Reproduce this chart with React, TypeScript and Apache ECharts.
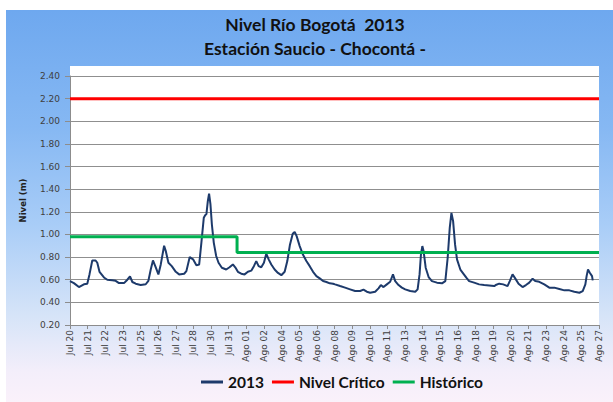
import React, { useEffect, useRef } from "react";
import * as echarts from "echarts";

const titleLines = ["Nivel Río Bogotá  2013", "Estación Saucio - Chocontá -"];
const yAxisName = "Nivel (m)";
const xTickLabels = [
  "Jul 20", "Jul 21", "Jul 22", "Jul 23", "Jul 25", "Jul 26", "Jul 27", "Jul 28", "Jul 30", "Jul 31",
  "Ago 01", "Ago 02", "Ago 04", "Ago 05", "Ago 06", "Ago 08", "Ago 09", "Ago 10", "Ago 11", "Ago 13",
  "Ago 14", "Ago 15", "Ago 16", "Ago 18", "Ago 19", "Ago 20", "Ago 21", "Ago 23", "Ago 24", "Ago 25", "Ago 27",
];
const totalDays = 38; // Jul 20 00:00 -> Ago 27 00:00

// days elapsed since Jul 20 00:00
const sampleDays = [
  0.0, 0.28, 0.64, 1.0, 1.24, 1.4, 1.6, 1.84, 1.96, 2.12, 2.44, 2.68, 3.04, 3.28, 3.52, 3.88, 4.12, 4.31, 4.48, 4.72,
  5.08, 5.44, 5.63, 5.8, 5.96, 6.16, 6.35, 6.52, 6.76, 6.88, 7.07, 7.31, 7.6, 7.84, 8.2, 8.36, 8.6, 8.84, 9.08, 9.28,
  9.44, 9.61, 9.71, 9.8, 9.9, 9.99, 10.09, 10.19, 10.33, 10.5, 10.67, 10.91, 11.22, 11.46, 11.7, 11.87, 12.06, 12.3, 12.54, 12.78,
  13.02, 13.21, 13.38, 13.55, 13.74, 13.93, 14.1, 14.27, 14.46, 14.7, 14.94, 15.18, 15.42, 15.61, 15.8, 16.0, 16.14, 16.28, 16.5, 16.74,
  16.98, 17.22, 17.46, 17.7, 17.94, 18.18, 18.42, 18.66, 18.9, 19.04, 19.4, 19.76, 20.12, 20.48, 20.84, 21.08, 21.32, 21.56, 21.92, 22.16,
  22.33, 22.52, 22.76, 23.0, 23.2, 23.36, 23.6, 23.84, 24.08, 24.44, 24.8, 24.97, 25.11, 25.21, 25.31, 25.4, 25.55, 25.76, 26.0, 26.36,
  26.72, 26.96, 27.13, 27.28, 27.4, 27.52, 27.66, 27.8, 28.04, 28.28, 28.47, 28.67, 29.03, 29.39, 29.75, 30.11, 30.47, 30.58, 30.83, 31.12,
  31.43, 31.59, 31.79, 31.98, 32.22, 32.51, 32.75, 32.99, 33.23, 33.42, 33.71, 34.07, 34.43, 34.79, 35.15, 35.51, 35.87, 36.23, 36.59, 36.83,
  37.02, 37.11, 37.21, 37.35, 37.5, 37.55,
];
const level2013 = [
  0.588, 0.57, 0.535, 0.56, 0.565, 0.647, 0.77, 0.77, 0.75, 0.67, 0.62, 0.6, 0.595, 0.59, 0.57, 0.57, 0.6, 0.63, 0.58, 0.565,
  0.553, 0.56, 0.59, 0.69, 0.77, 0.71, 0.647, 0.735, 0.9, 0.853, 0.75, 0.72, 0.67, 0.647, 0.653, 0.676, 0.8, 0.78, 0.727, 0.735,
  0.93, 1.147, 1.17, 1.18, 1.294, 1.36, 1.265, 1.09, 0.926, 0.81, 0.75, 0.706, 0.69, 0.71, 0.735, 0.71, 0.67, 0.653, 0.647, 0.67,
  0.68, 0.72, 0.765, 0.72, 0.71, 0.75, 0.83, 0.78, 0.735, 0.69, 0.66, 0.64, 0.67, 0.765, 0.91, 1.006, 1.023, 0.985, 0.897, 0.82,
  0.765, 0.72, 0.67, 0.632, 0.612, 0.588, 0.58, 0.568, 0.565, 0.559, 0.544, 0.53, 0.515, 0.5, 0.5, 0.512, 0.494, 0.485, 0.494, 0.524,
  0.553, 0.535, 0.559, 0.582, 0.647, 0.588, 0.553, 0.53, 0.515, 0.5, 0.494, 0.515, 0.647, 0.823, 0.897, 0.853, 0.706, 0.624, 0.588, 0.574,
  0.568, 0.588, 0.794, 1.06, 1.19, 1.118, 0.912, 0.78, 0.69, 0.65, 0.618, 0.588, 0.574, 0.559, 0.553, 0.55, 0.544, 0.553, 0.565, 0.559,
  0.544, 0.588, 0.647, 0.612, 0.565, 0.535, 0.553, 0.574, 0.609, 0.588, 0.582, 0.559, 0.53, 0.53, 0.518, 0.506, 0.506, 0.494, 0.485, 0.5,
  0.559, 0.632, 0.69, 0.66, 0.632, 0.594,
];
const criticalDays = [0, 38];
const criticalLevels = [2.2, 2.2];
const historicalDays = [0, 12, 12, 38];
const historicalLevels = [0.98, 0.98, 0.84, 0.84];
const seriesNames = ["2013", "Nivel Crítico", "Histórico"];
const yMin = 0.2;
const yMax = 2.4;
const yStep = 0.2;

const zip = (xs: number[], ys: number[]) => xs.map((x, i) => [x, ys[i]]);

export default function App() {
  const ref = useRef<HTMLDivElement>(null);
  useEffect(() => {
    document.body.style.margin = "0";
    if (!ref.current) return;
    const chart = echarts.init(ref.current, undefined, { renderer: "svg" });
    const axisGray = "#8c8c8c";
    const labelFont = "DejaVu Sans";
    chart.setOption({
      animation: false,
      backgroundColor: "transparent",
      graphic: [
        {
          type: "text",
          x: 315,
          y: 24,
          style: {
            text: titleLines[0],
            align: "center",
            verticalAlign: "middle",
            font: "bold 17.5px Lato",
            fill: "#111",
          },
        },
        {
          type: "text",
          x: 315,
          y: 48,
          style: {
            text: titleLines[1],
            align: "center",
            verticalAlign: "middle",
            font: "bold 17.5px Lato",
            fill: "#111",
          },
        },
      ],
      grid: {
        left: 70,
        right: 14,
        top: 76,
        bottom: 77,
        show: false,
      },
      legend: {
        data: seriesNames,
        left: 196,
        top: 369,
        icon: "rect",
        itemWidth: 22,
        itemHeight: 3,
        itemGap: 8,
        textStyle: { fontFamily: "Lato", fontWeight: "bold", fontSize: 15.5, color: "#111" },
      },
      xAxis: [
        {
          type: "category",
          data: xTickLabels,
          boundaryGap: false,
          axisLine: { show: true, lineStyle: { color: axisGray, width: 1 } },
          axisTick: { show: true, interval: 0, length: 4, lineStyle: { color: axisGray } },
          axisLabel: {
            interval: 0,
            rotate: 90,
            fontSize: 9,
            fontFamily: labelFont,
            color: "#404040",
            margin: 5,
          },
          splitLine: { show: false },
        },
        {
          type: "value",
          min: 0,
          max: totalDays,
          show: false,
          splitLine: { show: false },
        },
      ],
      yAxis: {
        type: "value",
        min: yMin,
        max: yMax,
        interval: yStep,
        name: yAxisName,
        nameLocation: "middle",
        nameRotate: 90,
        nameGap: 43,
        nameTextStyle: { fontFamily: labelFont, fontWeight: "bold", fontSize: 8.5, color: "#222" },
        axisLine: { show: true, lineStyle: { color: axisGray, width: 1 } },
        axisTick: { show: true, length: 5, lineStyle: { color: axisGray } },
        axisLabel: {
          formatter: (v: number) => v.toFixed(2),
          fontSize: 9,
          fontFamily: labelFont,
          color: "#404040",
          margin: 10,
        },
        splitLine: { show: true, lineStyle: { color: "#8f8f8f", width: 1 } },
      },
      series: [
        {
          name: seriesNames[0],
          type: "line",
          xAxisIndex: 1,
          data: zip(sampleDays, level2013),
          showSymbol: false,
          symbol: "none",
          lineStyle: { color: "#1d3a6b", width: 2 },
          itemStyle: { color: "#1d3a6b" },
        },
        {
          name: seriesNames[1],
          type: "line",
          xAxisIndex: 1,
          data: zip(criticalDays, criticalLevels),
          showSymbol: false,
          symbol: "none",
          lineStyle: { color: "#ff0000", width: 3 },
          itemStyle: { color: "#ff0000" },
        },
        {
          name: seriesNames[2],
          type: "line",
          xAxisIndex: 1,
          data: zip(historicalDays, historicalLevels),
          showSymbol: false,
          symbol: "none",
          lineStyle: { color: "#00b050", width: 3 },
          itemStyle: { color: "#00b050" },
        },
      ],
    });
    return () => chart.dispose();
  }, []);

  return (
    <div style={{ position: "relative", width: 613, height: 402, background: "#ffffff" }}>
      <div
        style={{
          position: "absolute",
          left: 6,
          top: 10,
          right: 0,
          bottom: 0,
          background:
            "linear-gradient(to bottom, #6ea8ef 0%, #86b8f3 30%, #a9cdf7 55%, #d6e4f8 78%, #f3eefa 92%, #faf1fa 100%)",
        }}
      />
      <div
        style={{ position: "absolute", left: 70, top: 66, width: 529, height: 259, background: "#ffffff" }}
      />
      <div ref={ref} style={{ position: "absolute", left: 0, top: 0, width: 613, height: 402 }} />
    </div>
  );
}
